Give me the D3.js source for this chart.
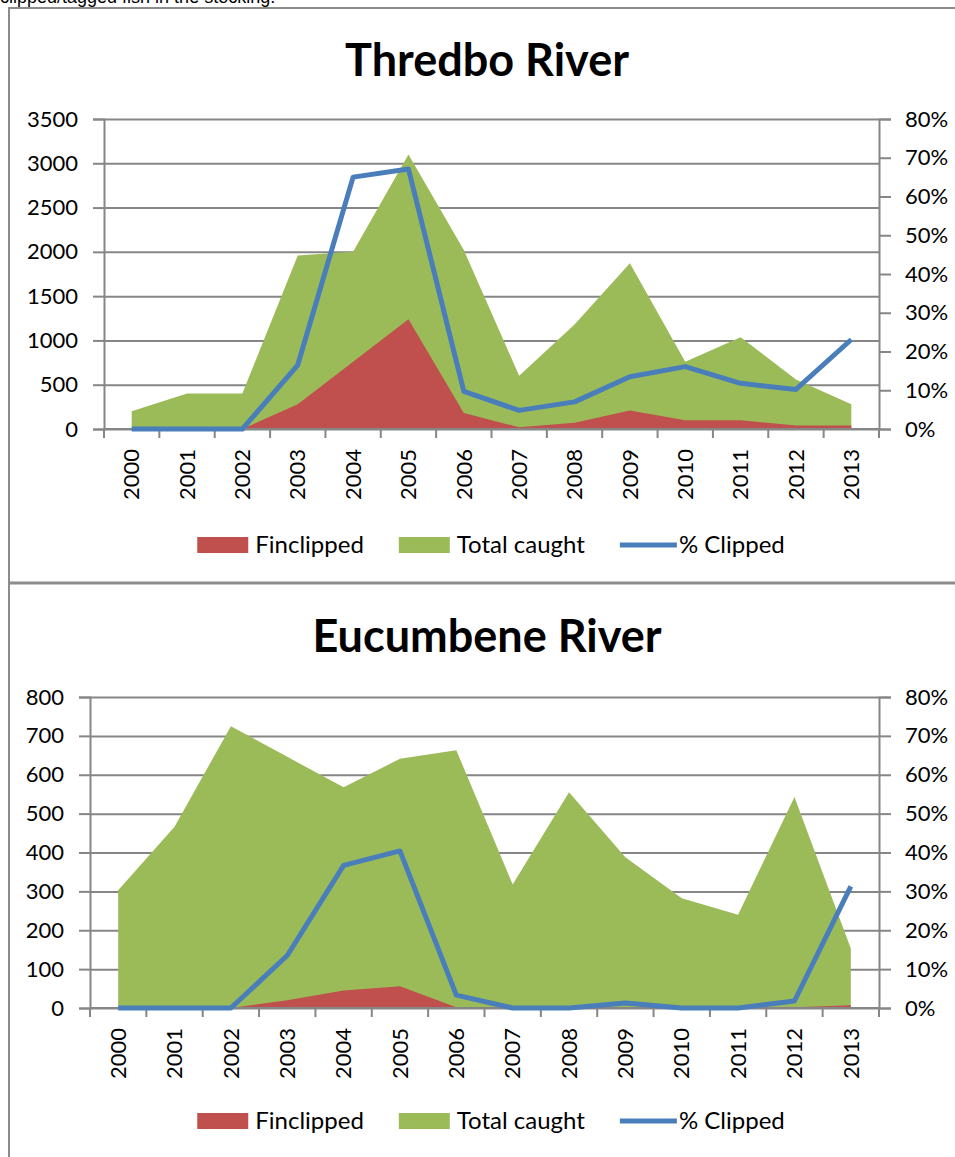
<!DOCTYPE html>
<html>
<head>
<meta charset="utf-8">
<script src="https://cdnjs.cloudflare.com/ajax/libs/d3/7.8.5/d3.min.js"></script>
<style>
  body { margin: 0; background: #fff; overflow: hidden; }
  svg text { font-family: Lato, "Open Sans", sans-serif; fill: #000; }
</style>
</head>
<body>
<div id="chart"></div>
<script>
// data
const years = ["2000", "2001", "2002", "2003", "2004", "2005", "2006",
               "2007", "2008", "2009", "2010", "2011", "2012", "2013"];

const thredboFinclipped = [0, 0, 0, 280, 760, 1240, 180, 20, 70, 210, 100, 100, 40, 40];
const thredboTotal = [200, 400, 400, 1960, 2000, 3100, 2020, 600, 1180, 1870, 760, 1035, 560, 280];
const thredboPct = [0, 0, 0, 0.165, 0.65, 0.671, 0.097, 0.048, 0.07, 0.135, 0.161, 0.118, 0.102, 0.231];

const eucumbeneFinclipped = [0, 0, 0, 20, 45, 56, 2, 0, 0, 2, 0, 0, 2, 7];
const eucumbeneTotal = [303, 466, 725, 646, 568, 641, 663, 318, 555, 388, 282, 240, 543, 153];
const eucumbenePct = [0, 0, 0, 0.135, 0.367, 0.404, 0.033, 0, 0, 0.013, 0, 0, 0.018, 0.313];

const thredboTicks = [0, 500, 1000, 1500, 2000, 2500, 3000, 3500];
const eucumbeneTicks = [0, 100, 200, 300, 400, 500, 600, 700, 800];
const pctTicks = [0, 0.1, 0.2, 0.3, 0.4, 0.5, 0.6, 0.7, 0.8];

const legendNames = ["Finclipped", "Total caught", "% Clipped"];

const red = "#c0504d", green = "#9bbb59", blue = "#4a7ebb", grid = "#868686";

const W = 955, H = 1157;
const svg = d3.select("#chart").append("svg")
    .attr("width", W)
    .attr("height", H);

// bit of the report text cut off at the top
svg.append("text")
    .attr("x", 0)
    .attr("y", 3)
    .style("font-family", "'Liberation Sans', Arial, sans-serif")
    .style("font-size", "18px")
    .text("clipped/tagged fish in the stocking.");

// frames round the two charts
svg.append("path")
    .attr("d", "M9,1157 V8 H955")
    .attr("fill", "none")
    .attr("stroke", "#8c8c8c")
    .attr("stroke-width", 2);
svg.append("line")
    .attr("x1", 8).attr("x2", W)
    .attr("y1", 583).attr("y2", 583)
    .attr("stroke", "#8c8c8c")
    .attr("stroke-width", 3);

function drawChart(cfg) {
  const g = svg.append("g");

  const x = d3.scaleBand().domain(years).range([cfg.left, cfg.right]);
  const cx = d => x(d) + x.bandwidth() / 2;
  const yL = d3.scaleLinear().domain([0, cfg.ticks[cfg.ticks.length - 1]]).range([cfg.bottom, cfg.top]);
  const yR = d3.scaleLinear().domain([0, 0.8]).range([cfg.bottom, cfg.top]);

  g.append("text")
      .attr("x", 487)
      .attr("y", cfg.titleY)
      .attr("text-anchor", "middle")
      .style("font-size", "45px")
      .style("font-weight", "bold")
      .text(cfg.title);

  // gridlines
  g.append("g")
      .attr("transform", `translate(${cfg.left},0)`)
      .call(d3.axisLeft(yL).tickValues(cfg.ticks).tickSize(-(cfg.right - cfg.left)).tickFormat(""))
      .call(a => a.select(".domain").remove())
      .selectAll("line").attr("stroke", grid).attr("stroke-width", 2);

  // areas: total behind, finclipped in front
  const area = vals => d3.area()
      .x((d, i) => cx(years[i]))
      .y0(yL(0))
      .y1(d => yL(d))(vals);

  g.append("path").attr("d", area(cfg.total)).attr("fill", green);
  g.append("path").attr("d", area(cfg.fin)).attr("fill", red);

  // left axis
  g.append("g")
      .attr("transform", `translate(${cfg.left},0)`)
      .call(d3.axisLeft(yL).tickValues(cfg.ticks).tickFormat(d3.format("d")).tickSize(11).tickPadding(15))
      .call(a => {
        a.select(".domain").attr("stroke", grid).attr("stroke-width", 2);
        a.selectAll("line").attr("stroke", grid).attr("stroke-width", 2);
        a.selectAll("text").style("font-size", "22px").style("font-family", "Lato, sans-serif");
      });

  // right axis
  g.append("g")
      .attr("transform", `translate(${cfg.right},0)`)
      .call(d3.axisRight(yR).tickValues(pctTicks).tickFormat(d3.format(".0%")).tickSize(12).tickPadding(14))
      .call(a => {
        a.select(".domain").attr("stroke", grid).attr("stroke-width", 2);
        a.selectAll("line").attr("stroke", grid).attr("stroke-width", 2);
        a.selectAll("text").style("font-size", "22px").style("font-family", "Lato, sans-serif");
      });

  // category axis: ticks between categories, labels turned on their side
  g.append("line")
      .attr("x1", cfg.left).attr("x2", cfg.right)
      .attr("y1", cfg.bottom).attr("y2", cfg.bottom)
      .attr("stroke", grid).attr("stroke-width", 2);
  g.selectAll(".xtick")
      .data(years.concat([null]))
      .join("line")
      .attr("x1", d => d === null ? cfg.right : x(d))
      .attr("x2", d => d === null ? cfg.right : x(d))
      .attr("y1", cfg.bottom)
      .attr("y2", cfg.bottom + 9)
      .attr("stroke", grid).attr("stroke-width", 2);
  g.selectAll(".xlab")
      .data(years)
      .join("text")
      .attr("transform", d => `translate(${cx(d)},${cfg.bottom + 20}) rotate(-90)`)
      .attr("text-anchor", "end")
      .attr("dy", "0.35em")
      .style("font-size", "22px")
      .text(d => d);

  // % clipped line
  const line = d3.line()
      .x((d, i) => cx(years[i]))
      .y(d => yR(d));
  g.append("path")
      .attr("d", line(cfg.pct))
      .attr("fill", "none")
      .attr("stroke", blue)
      .attr("stroke-width", 5)
      .attr("stroke-linejoin", "round");

  // legend
  const lg = g.append("g");
  let lx = 0;
  legendNames.forEach((name, i) => {
    const item = lg.append("g").attr("transform", `translate(${lx},0)`);
    if (i < 2) {
      item.append("rect")
          .attr("x", 0).attr("y", -8)
          .attr("width", 51).attr("height", 16)
          .attr("fill", i === 0 ? red : green);
    } else {
      item.append("line")
          .attr("x1", 0).attr("x2", 57)
          .attr("y1", 0).attr("y2", 0)
          .attr("stroke", blue).attr("stroke-width", 5);
    }
    const t = item.append("text")
        .attr("x", i < 2 ? 58 : 59)
        .attr("y", 0)
        .attr("dy", "0.35em")
        .style("font-size", "24px")
        .text(name);
    lx += (i < 2 ? 58 : 59) + t.node().getComputedTextLength() + 35;
  });
  const lw = lg.node().getBBox().width;
  lg.attr("transform", `translate(${491 - lw / 2},${cfg.legendY})`);
}

drawChart({
  title: "Thredbo River", titleY: 76,
  left: 104, right: 879, top: 119, bottom: 429,
  ticks: thredboTicks, fin: thredboFinclipped, total: thredboTotal, pct: thredboPct,
  legendY: 545
});

drawChart({
  title: "Eucumbene River", titleY: 652,
  left: 90, right: 879, top: 697, bottom: 1008,
  ticks: eucumbeneTicks, fin: eucumbeneFinclipped, total: eucumbeneTotal, pct: eucumbenePct,
  legendY: 1121
});
</script>
</body>
</html>
